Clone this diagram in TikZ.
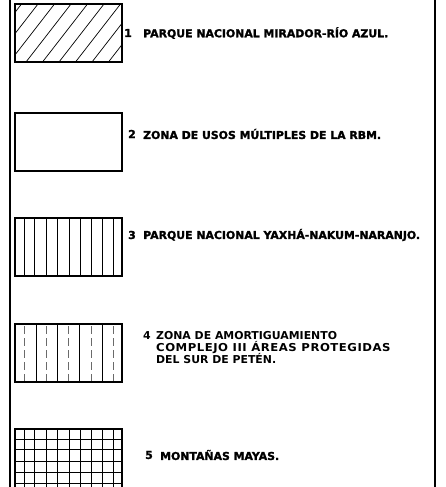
\documentclass[tikz,border=0pt]{standalone}
\usepackage{graphicx}
\usepackage{fontspec}
\setmainfont{DejaVu Sans}
\newfontfamily\legheavy[FakeBold=1.6]{DejaVu Sans Bold}
\definecolor{lgdink}{HTML}{000000}
\definecolor{lgdgray}{HTML}{6A6A6A}
\tikzset{
  patchbox/.style={draw=lgdink,line width=1.2pt},
  legtext/.style={anchor=west,inner sep=0pt,font=\fontsize{10.9}{12}\selectfont\bfseries,text=lgdink},
  legheavytext/.style={legtext,font=\fontsize{10.9}{12}\selectfont\legheavy},
}

\begin{document}
\begin{tikzpicture}[x=1pt,y=-1pt,line cap=butt]
    \useasboundingbox (0,0) rectangle (445,487);
    % frame
    \draw[lgdink,line width=2.8pt] (10,0) -- (10,487);
    \draw[lgdink,line width=2.8pt] (435,0) -- (435,487);
    % 1 hatched
    \begin{scope}
      \clip (15,4) rectangle (122,62);
      \foreach \i in {-40,-23.5,...,125}
        \draw[lgdink,line width=0.7pt] (\i,62) -- (\i+45,4);
    \end{scope}
    \draw[patchbox] (15,4) rectangle (122,62);
    \node[legheavytext] (n1) at (124,33) {1};
    \node[legheavytext] (t1) at (143,33) {PARQUE NACIONAL MIRADOR-RÍO AZUL.};
    % 2 empty
    \draw[patchbox] (15,113) rectangle (122,171);
    \node[legheavytext] (n2) at (128,134) {2};
    \node[legheavytext] (t2) at (143,134) {ZONA DE USOS MÚLTIPLES DE LA RBM.};
    % 3 vertical lines
    \foreach \x in {24,34,46,57,69,80,91,102,113}
      \draw[lgdink,line width=0.7pt] (\x,218) -- (\x,276);
    \draw[patchbox] (15,218) rectangle (122,276);
    \node[legheavytext] (n3) at (128,235) {3};
    \node[legheavytext] (t3) at (143,235) {PARQUE NACIONAL YAXHÁ-NAKUM-NARANJO.};
    % 4 lines and dashes
    \foreach \x in {36,57,79,102}
      \draw[lgdink,line width=0.7pt] (\x,324) -- (\x,382);
    \foreach \x in {24,46,68,91,113}
      \draw[lgdgray,line width=0.8pt,dash pattern=on 8pt off 4pt] (\x,326) -- (\x,382);
    \draw[patchbox] (15,324) rectangle (122,382);
    \node[legtext] (n4) at (143,336) {4};
    \node[legtext] (t4a) at (156,336) {ZONA DE AMORTIGUAMIENTO};
    \node[legtext] (t4b) at (156,348) {\scalebox{1.07}[1]{\addfontfeature{LetterSpace=4.5}COMPLEJO III ÁREAS PROTEGIDAS}};
    \node[legtext] (t4c) at (156,359) {DEL SUR DE PETÉN.};
    % 5 grid
    \begin{scope}
      \clip (15,429) rectangle (122,490);
      \foreach \x in {24,34,46,57,69,80,91,102,113}
        \draw[lgdink,line width=0.7pt] (\x,429) -- (\x,490);
      \foreach \y in {439,449,461,472,483}
        \draw[lgdink,line width=0.7pt] (15,\y) -- (122,\y);
    \end{scope}
    \draw[patchbox] (15,490) -- (15,429) -- (122,429) -- (122,490);
    \node[legheavytext] (n5) at (145,455) {5};
    \node[legheavytext] (t5) at (160,455) {MONTAÑAS MAYAS.};
\end{tikzpicture}
\end{document}
